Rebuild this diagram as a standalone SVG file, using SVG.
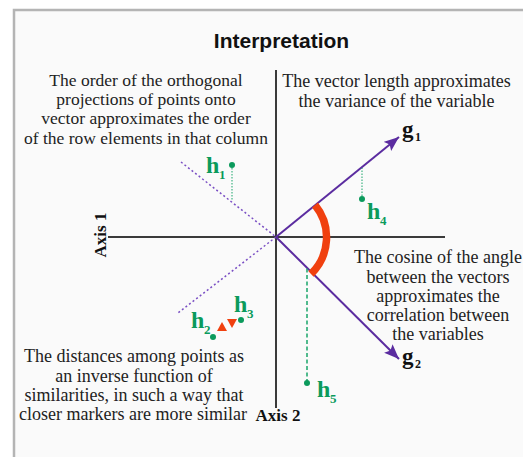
<svg xmlns="http://www.w3.org/2000/svg" width="523" height="457" viewBox="0 0 523 457">
<style>
.t{font-family:"Liberation Serif","Times New Roman",serif;font-size:18px;fill:#222;text-anchor:middle}
.t2{font-size:17.5px}
.ax{stroke:#3a3a3a;stroke-width:2;fill:none}
.vec{stroke:#5b2ca0;stroke-width:2;fill:none}
.dot{stroke:#7a4fc4;stroke-width:1.5;stroke-dasharray:2 2.5;fill:none}
.gdrop{stroke:#19a56a;stroke-width:1;stroke-dasharray:1.5 1.5;fill:none}
.gdash{stroke:#19a56a;stroke-width:1.5;stroke-dasharray:4 2.5;fill:none}
.pt{fill:#0b9a5c}
.hl{font-family:"Liberation Serif","Times New Roman",serif;font-weight:bold;font-size:24px;fill:#0b9a5c}
.hs{font-family:"Liberation Serif","Times New Roman",serif;font-weight:bold;font-size:13px;fill:#0b9a5c}
.gl{font-family:"Liberation Serif","Times New Roman",serif;font-weight:bold;font-size:23px;fill:#111}
.gs{font-family:"Liberation Serif","Times New Roman",serif;font-weight:bold;font-size:12px;fill:#111}
.axl{font-family:"Liberation Serif","Times New Roman",serif;font-weight:bold;font-size:17px;fill:#111;text-anchor:middle}
.tri{fill:#f0400f}
</style>
<defs>
<marker id="ah" markerUnits="userSpaceOnUse" markerWidth="16" markerHeight="14" refX="15" refY="6" orient="auto">
<path d="M0,0 L15,6 L0,12 L3,6 Z" fill="#5b2ca0"/>
</marker>
</defs>
<rect x="0" y="0" width="523" height="457" fill="#ffffff"/>
<rect x="14" y="10" width="530" height="470" fill="#fafafa" stroke="#b4b4b4" stroke-width="2.5"/>
<text x="281.5" y="48" style="font-family:'Liberation Sans',Arial,sans-serif;font-weight:bold;font-size:21px;fill:#111;text-anchor:middle">Interpretation</text>

<g id="axes">
<line class="ax" x1="276" y1="70" x2="276" y2="408"/>
<line class="ax" x1="108" y1="237" x2="445" y2="237"/>
<text class="axl" transform="translate(106,235) rotate(-90)" x="0" y="0">Axis 1</text>
<text class="axl" x="278" y="421">Axis 2</text>
</g>

<g id="connectors">
<line class="dot" x1="181" y1="162" x2="276" y2="237"/>
<line class="dot" x1="276" y1="237" x2="178" y2="313"/>
<line class="vec" x1="276" y1="237" x2="399" y2="137" marker-end="url(#ah)"/>
<line class="vec" x1="276" y1="237" x2="399" y2="359" marker-end="url(#ah)"/>
<path d="M315,205 A51,51 0 0 1 311,274" fill="none" stroke="#f0400f" stroke-width="7.5"/>
<line class="gdrop" x1="232" y1="165" x2="232" y2="201"/>
<line class="gdrop" x1="362" y1="199" x2="362" y2="168"/>
<line class="gdash" x1="307" y1="383" x2="307" y2="268"/>
<path class="tri" d="M222,322 L217,331 L227,331 Z"/>
<path class="tri" d="M227,319 L237,319 L232,328 Z"/>
</g>

<g id="g1"><text class="gl" x="402" y="137">g</text><text class="gs" x="415" y="141">1</text></g>
<g id="g2"><text class="gl" x="402" y="364">g</text><text class="gs" x="415" y="368">2</text></g>

<g id="h1"><circle class="pt" cx="232" cy="165" r="3"/><text class="hl" x="206" y="173">h</text><text class="hs" x="219" y="179">1</text></g>
<g id="h2"><circle class="pt" cx="213" cy="337" r="3"/><text class="hl" x="191" y="328">h</text><text class="hs" x="204" y="334">2</text></g>
<g id="h3"><circle class="pt" cx="241" cy="320" r="3"/><text class="hl" x="234" y="312">h</text><text class="hs" x="247" y="318">3</text></g>
<g id="h4"><circle class="pt" cx="362" cy="199" r="3"/><text class="hl" x="367" y="219">h</text><text class="hs" x="380" y="225">4</text></g>
<g id="h5"><circle class="pt" cx="307" cy="383" r="3"/><text class="hl" x="317" y="397">h</text><text class="hs" x="330" y="403">5</text></g>

<g id="note-order">
<text class="t t2" x="146" y="85.5">The order of the orthogonal</text>
<text class="t t2" x="146" y="104.9">projections of points onto</text>
<text class="t t2" x="146" y="124.3">vector approximates the order</text>
<text class="t t2" x="146" y="143.7">of the row elements in that column</text>
</g>
<g id="note-length">
<text class="t" x="396.5" y="86.5">The vector length approximates</text>
<text class="t" x="396.5" y="106.5">the variance of the variable</text>
</g>
<g id="note-cosine">
<text class="t" x="438" y="263">The cosine of the angle</text>
<text class="t" x="438" y="282.5">between the vectors</text>
<text class="t" x="438" y="302">approximates the</text>
<text class="t" x="438" y="321">correlation between</text>
<text class="t" x="438" y="340">the variables</text>
</g>
<g id="note-distance">
<text class="t" x="134" y="362">The distances among points as</text>
<text class="t" x="134" y="381.5">an inverse function of</text>
<text class="t" x="134" y="401">similarities, in such a way that</text>
<text class="t" x="133" y="420">closer markers are more similar</text>
</g>
</svg>
